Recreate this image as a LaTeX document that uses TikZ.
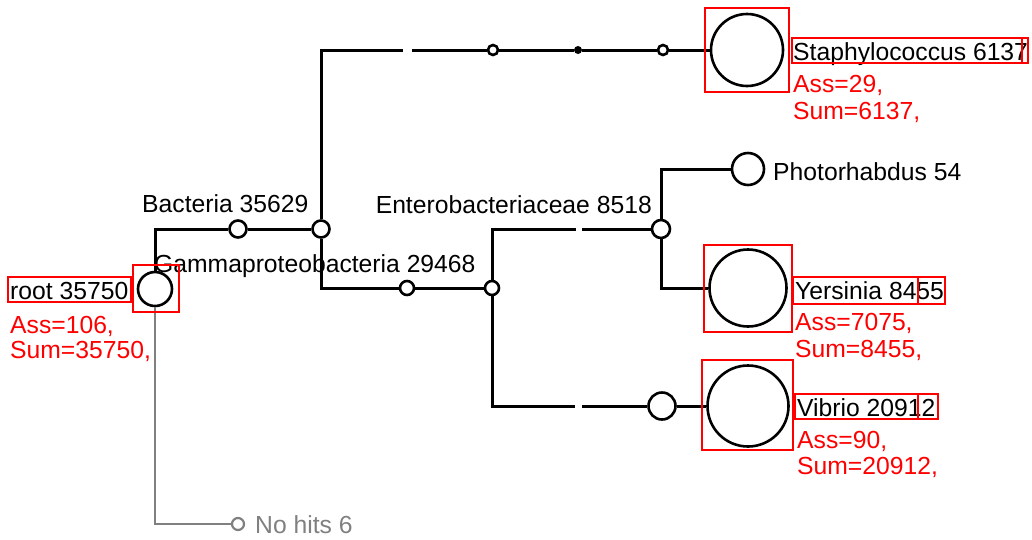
\documentclass[tikz,border=0pt]{standalone}
\usepackage{fontspec}
\setmainfont{Liberation Sans}
\usetikzlibrary{positioning,calc}

\begin{document}
\begin{tikzpicture}[x=1pt,y=-1pt,
  txt/.style={anchor=base west,inner sep=0pt,font=\fontsize{24.7}{28}\selectfont},
  info/.style={txt,text=red},
  dot/.style={circle,draw,line width=2.6pt,fill=white,inner sep=0pt,minimum size=#1},
  edge/.style={line width=3pt},
  redbox/.style={draw=red,line width=2.8pt}]
\useasboundingbox (0,0) rectangle (1032,539);
% nodes of the tree
\node[dot=34pt] (root) at (155,289) {};
\node[dot=17pt] (bact) at (238,229) {};
\node[dot=17pt] (bsplit) at (321,229) {};
\coordinate (ga) at (403,50);
\coordinate (gb) at (412,50);
\node[dot=10pt] (s1) at (493,50) {};
\node[circle,fill,inner sep=0pt,minimum size=8pt] (s2) at (578,50) {};
\node[dot=10pt] (s3) at (663,50) {};
\node[dot=72pt] (staph) at (747,50) {};
\node[dot=14pt] (gam1) at (407,288) {};
\node[dot=14pt] (gam2) at (492,288) {};
\coordinate (ea) at (576,229);
\coordinate (eb) at (582,229);
\node[dot=18pt] (ent) at (661,229) {};
\node[dot=32pt] (photo) at (748,169) {};
\node[dot=77pt] (yers) at (748,288) {};
\coordinate (va) at (575,406);
\coordinate (vb) at (582,406);
\node[dot=27pt] (vib1) at (662,406) {};
\node[dot=81pt] (vib) at (748,406) {};
\node[dot=12pt,draw=gray,line width=2.2pt] (nohit) at (238,524) {};
% edges
\draw[edge] (root) |- (bact);
\draw[edge] (bact) -- (bsplit);
\draw[edge] (bsplit) |- (ga);
\draw[edge] (gb) -- (s1) -- (s2) -- (s3) -- (staph);
\draw[edge] (bsplit) |- (gam1);
\draw[edge] (gam1) -- (gam2);
\draw[edge] (gam2) |- (ea);
\draw[edge] (eb) -- (ent);
\draw[edge] (ent) |- (photo);
\draw[edge] (ent) |- (yers);
\draw[edge] (gam2) |- (va);
\draw[edge] (vb) -- (vib1) -- (vib);
\draw[edge,gray,line width=2.2pt] (root) |- (nohit);
% labels
\node[txt] (lroot) at (10,299) {root 35750};
\node[info] (aroot) at (10,333) {Ass=106,};
\node[info] (sroot) at (10,358) {Sum=35750,};
\node[txt] (lbact) at (142,212) {Bacteria 35629};
\node[txt] (lgam) at (154,272) {Gammaproteobacteria 29468};
\node[txt,anchor=base east] (lent) at (652,213) {Enterobacteriaceae 8518};
\node[txt] (lphoto) at (773,180) {Photorhabdus 54};
\node[txt] (lstaph) at (793,60) {Staphylococcus 6137};
\node[info] (astaph) at (793,92) {Ass=29,};
\node[info] (sstaph) at (793,119) {Sum=6137,};
\node[txt] (lyers) at (795,299) {Yersinia 8455};
\node[info] (ayers) at (795,330) {Ass=7075,};
\node[info] (syers) at (795,357) {Sum=8455,};
\node[txt] (lvib) at (797,416) {Vibrio 20912};
\node[info] (avib) at (797,448) {Ass=90,};
\node[info] (svib) at (797,474) {Sum=20912,};
\node[txt,text=gray] (lnohit) at (255,533) {No hits 6};
% red boxes
\draw[redbox] (8,277) rectangle (131,302);
\draw[redbox] (133,265) rectangle (179,312);
\draw[redbox] (705,8) rectangle (789,92);
\draw[redbox] (792,38) rectangle (1028,63);
\draw[redbox] (1022,38) rectangle (1028,63);
\draw[redbox] (704,245) rectangle (792,332);
\draw[redbox] (793,277) rectangle (945,304);
\draw[redbox] (918,277) rectangle (945,304);
\draw[redbox] (702,360) rectangle (793,450);
\draw[redbox] (795,394) rectangle (938,419);
\draw[redbox] (918,394) rectangle (938,419);
\end{tikzpicture}
\end{document}
